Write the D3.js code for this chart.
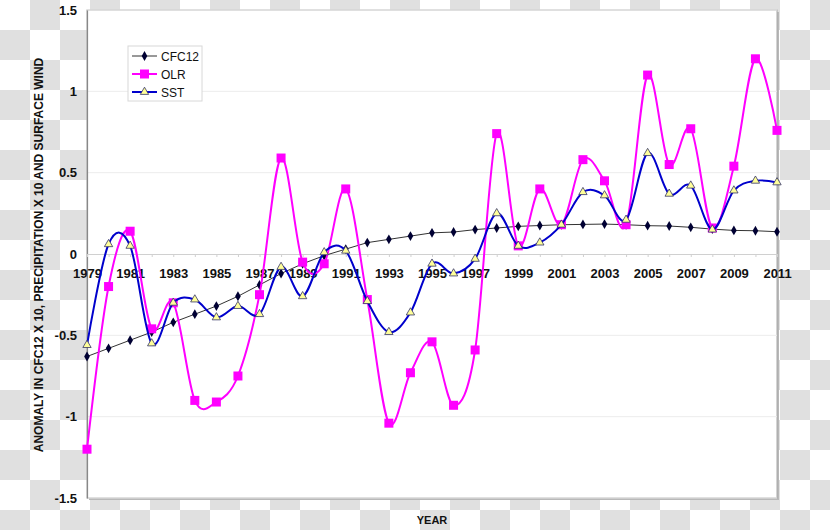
<!DOCTYPE html>
<html>
<head>
<meta charset="utf-8">
<script src="https://cdn.jsdelivr.net/npm/d3@7"></script>
<style>
  html, body { margin: 0; padding: 0; background: #fff; }
  svg { display: block; font-family: "Liberation Sans", Arial, sans-serif; }
</style>
</head>
<body>
<svg id="chart" width="830" height="530"></svg>
<script>
const years = d3.range(1979, 2012);
const cfc12 = [-0.63, -0.58, -0.53, -0.48, -0.42, -0.37, -0.32, -0.26, -0.19, -0.12, -0.06, -0.01, 0.03, 0.07, 0.09, 0.11, 0.13, 0.135, 0.15, 0.16, 0.17, 0.175, 0.18, 0.182, 0.184, 0.18, 0.174, 0.172, 0.164, 0.153, 0.145, 0.143, 0.137];
const olr = [-1.20, -0.20, 0.14, -0.46, -0.30, -0.90, -0.91, -0.75, -0.25, 0.59, -0.05, -0.06, 0.40, -0.28, -1.04, -0.73, -0.54, -0.93, -0.59, 0.74, 0.05, 0.40, 0.18, 0.58, 0.45, 0.18, 1.10, 0.55, 0.77, 0.16, 0.54, 1.20, 0.76];
const sst = [-0.56, 0.06, 0.05, -0.55, -0.30, -0.28, -0.39, -0.32, -0.37, -0.08, -0.26, 0.01, 0.02, -0.29, -0.48, -0.36, -0.06, -0.12, -0.03, 0.25, 0.05, 0.07, 0.18, 0.38, 0.36, 0.21, 0.62, 0.37, 0.42, 0.15, 0.39, 0.45, 0.44];
const yTicks = [-1.5, -1, -0.5, 0, 0.5, 1, 1.5];
const xTickYears = years.filter(y => (y - 1979) % 2 === 0);
const seriesNames = ["CFC12", "OLR", "SST"];

const svg = d3.select("#chart");
const W = 830, H = 530;

// checkerboard background
const cell = 30;
const cells = [];
for (let r = 0; r < Math.ceil(H / cell); r++)
  for (let c = 0; c < Math.ceil(W / cell); c++)
    if ((r + c) % 2 === 1) cells.push([c, r]);
svg.append("rect").attr("width", W).attr("height", H).attr("fill", "#ffffff");
svg.append("g").selectAll("rect").data(cells).join("rect")
  .attr("x", d => d[0] * cell).attr("y", d => d[1] * cell)
  .attr("width", cell).attr("height", cell).attr("fill", "#e0e0e0");

const plot = { left: 87, right: 777, top: 10, bottom: 498 };
const x = d3.scaleLinear().domain([1979, 2011]).range([plot.left, plot.right]);
const y = d3.scaleLinear().domain([-1.5, 1.5]).range([plot.bottom, plot.top]);

// plot area with shadow
svg.append("rect").attr("x", plot.left + 2).attr("y", plot.top + 2)
  .attr("width", plot.right - plot.left).attr("height", plot.bottom - plot.top)
  .attr("fill", "#b8b8b8");
svg.append("rect").attr("x", plot.left).attr("y", plot.top)
  .attr("width", plot.right - plot.left).attr("height", plot.bottom - plot.top)
  .attr("fill", "#ffffff").attr("stroke", "#a8a8a8").attr("stroke-width", 1);

// gridlines
svg.append("g").selectAll("line").data(yTicks.filter(v => v !== 0)).join("line")
  .attr("x1", plot.left).attr("x2", plot.right)
  .attr("y1", d => y(d)).attr("y2", d => y(d))
  .attr("stroke", "#ececec").attr("stroke-width", 1);

// y axis
const yAxis = d3.axisLeft(y).tickValues(yTicks).tickSize(0).tickPadding(10)
  .tickFormat(d => String(d));
const gy = svg.append("g").attr("transform", `translate(${plot.left},0)`).call(yAxis);
gy.select(".domain").attr("stroke", "#888").attr("stroke-width", 1.2);
gy.selectAll("text").attr("font-size", 13).attr("font-weight", "bold")
  .attr("fill", "#111").attr("font-family", "Liberation Sans, Arial, sans-serif");

// x axis at zero
const xAxis = d3.axisBottom(x).tickValues(years).tickSize(3)
  .tickFormat(d => xTickYears.includes(d) ? String(d) : "");
const gx = svg.append("g").attr("transform", `translate(0,${y(0)})`).call(xAxis);
gx.select(".domain").attr("stroke", "#d0d0d0");
gx.selectAll(".tick line").attr("stroke", "#d0d0d0");
gx.selectAll("text").attr("font-size", 13).attr("font-weight", "bold")
  .attr("fill", "#111").attr("y", 15).attr("dy", "0.71em")
  .attr("font-family", "Liberation Sans, Arial, sans-serif");

// series
const smooth = d3.line().x((d, i) => x(years[i])).y(d => y(d)).curve(d3.curveCatmullRom.alpha(0));
const straight = d3.line().x((d, i) => x(years[i])).y(d => y(d));

svg.append("path").attr("d", straight(cfc12)).attr("fill", "none")
  .attr("stroke", "#333333").attr("stroke-width", 1);
const diamond = d3.symbol().type(d3.symbolDiamond).size(28);
svg.append("g").selectAll("path").data(cfc12).join("path")
  .attr("d", diamond)
  .attr("transform", (d, i) => `translate(${x(years[i])},${y(d)})`)
  .attr("fill", "#000033");

svg.append("path").attr("d", smooth(olr)).attr("fill", "none")
  .attr("stroke", "#ff00ff").attr("stroke-width", 2);
svg.append("g").selectAll("rect").data(olr).join("rect")
  .attr("x", (d, i) => x(years[i]) - 4.5).attr("y", d => y(d) - 4.5)
  .attr("width", 9).attr("height", 9).attr("fill", "#ff00ff");

svg.append("path").attr("d", smooth(sst)).attr("fill", "none")
  .attr("stroke", "#0000cc").attr("stroke-width", 2);
const tri = d3.symbol().type(d3.symbolTriangle).size(30);
svg.append("g").selectAll("path").data(sst).join("path")
  .attr("d", tri)
  .attr("transform", (d, i) => `translate(${x(years[i])},${y(d)})`)
  .attr("fill", "#ffff99").attr("stroke", "#333366").attr("stroke-width", 0.8);

// legend
const lg = svg.append("g");
lg.append("rect").attr("x", 128).attr("y", 46).attr("width", 74).attr("height", 55)
  .attr("fill", "#fff").attr("stroke", "#d8d8d8");
const rows = [56, 74, 92];
seriesNames.forEach((name, i) => {
  const yy = rows[i];
  const colr = ["#333333", "#ff00ff", "#0000cc"][i];
  lg.append("line").attr("x1", 132).attr("x2", 157).attr("y1", yy).attr("y2", yy)
    .attr("stroke", colr).attr("stroke-width", i === 0 ? 1 : 2);
  if (i === 0) {
    lg.append("path").attr("d", diamond).attr("transform", `translate(144.5,${yy})`).attr("fill", "#000033");
  } else if (i === 1) {
    lg.append("rect").attr("x", 140).attr("y", yy - 4.5).attr("width", 9).attr("height", 9).attr("fill", "#ff00ff");
  } else {
    lg.append("path").attr("d", tri).attr("transform", `translate(144.5,${yy})`)
      .attr("fill", "#ffff99").attr("stroke", "#333366").attr("stroke-width", 0.8);
  }
  lg.append("text").attr("x", 161).attr("y", yy + 4.5).text(name)
    .attr("font-size", 12).attr("fill", "#111");
});

// axis titles
svg.append("text").attr("transform", `translate(43,255) rotate(-90)`)
  .attr("text-anchor", "middle").attr("font-size", 12).attr("font-weight", "bold")
  .attr("fill", "#111").text("ANOMALY IN CFC12 X 10, PRECIPITATION X 10 AND SURFACE WIND");
svg.append("text").attr("x", 432).attr("y", 524).attr("text-anchor", "middle")
  .attr("font-size", 11).attr("font-weight", "bold").attr("fill", "#111").text("YEAR");
</script>
</body>
</html>
